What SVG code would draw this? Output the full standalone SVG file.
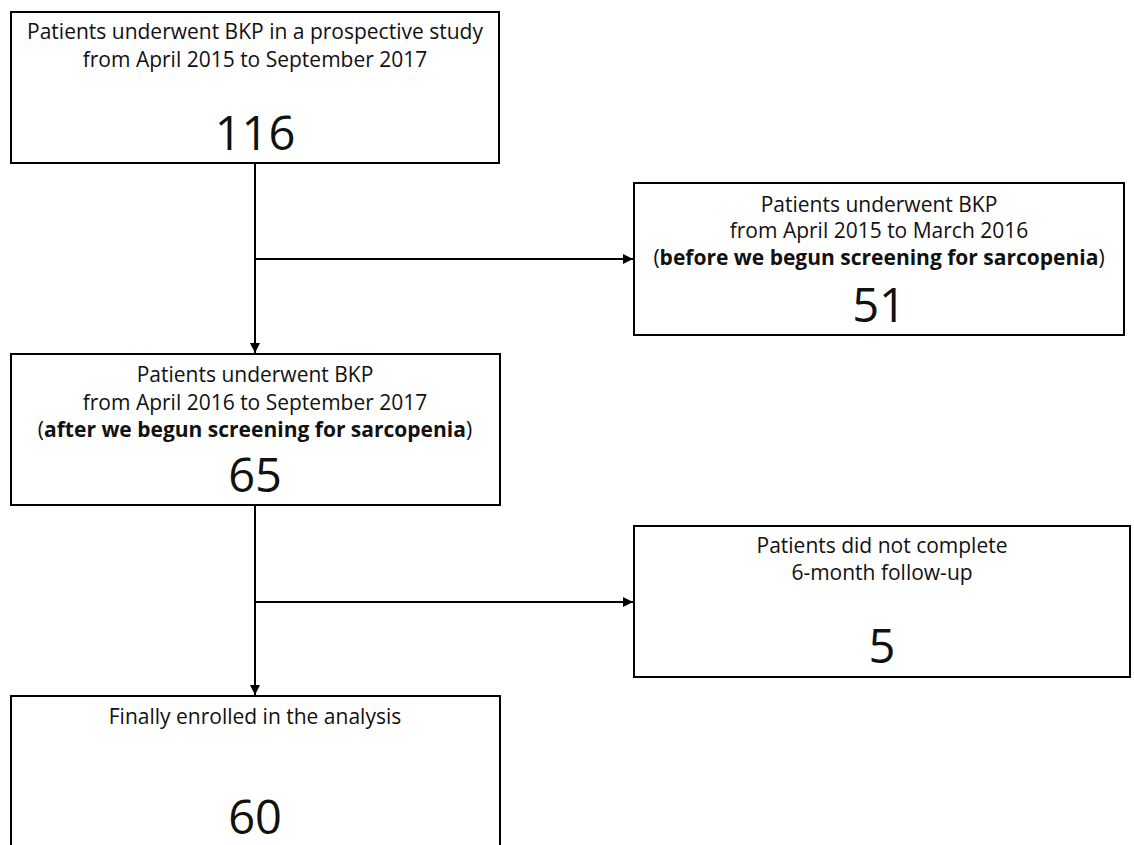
<svg xmlns="http://www.w3.org/2000/svg" width="1134" height="845" viewBox="0 0 1134 845">
<style>
.box{fill:#fff;stroke:#000;stroke-width:2}
.t{font-family:"Open Sans","Noto Sans","Liberation Sans",sans-serif;font-size:21px;fill:#111;text-anchor:middle}
.b{font-weight:bold}
.n{font-family:"Open Sans","Noto Sans","Liberation Sans",sans-serif;font-size:47px;fill:#111;text-anchor:middle}
.c{fill:none;stroke:#000;stroke-width:2}
</style>
<defs>
<marker id="ah" viewBox="0 0 10 10" refX="10" refY="5" markerWidth="5.5" markerHeight="5" markerUnits="strokeWidth" orient="auto">
<path d="M0,0 L10,5 L0,10 z" fill="#000"/>
</marker>
</defs>
<rect width="1134" height="845" fill="#fff"/>
<g id="connectors">
<line class="c" x1="255" y1="163" x2="255" y2="353" marker-end="url(#ah)"/>
<line class="c" x1="255" y1="259" x2="633" y2="259" marker-end="url(#ah)"/>
<line class="c" x1="255" y1="505" x2="255" y2="695" marker-end="url(#ah)"/>
<line class="c" x1="255" y1="602" x2="633" y2="602" marker-end="url(#ah)"/>
</g>
<g id="n1">
<rect class="box" x="11" y="12" width="488" height="151"/>
<text class="t" x="255" y="39">Patients underwent BKP in a prospective study</text>
<text class="t" x="255" y="67">from April 2015 to September 2017</text>
<text class="n" x="255" y="150">116</text>
</g>
<g id="n2">
<rect class="box" x="634" y="183" width="490" height="152"/>
<text class="t" x="879" y="212">Patients underwent BKP</text>
<text class="t" x="879" y="238">from April 2015 to March 2016</text>
<text class="t" x="879" y="265">(<tspan class="b">before we begun screening for sarcopenia</tspan>)</text>
<text class="n" x="879" y="322">51</text>
</g>
<g id="n3">
<rect class="box" x="11" y="354" width="489" height="151"/>
<text class="t" x="255" y="382">Patients underwent BKP</text>
<text class="t" x="255" y="410">from April 2016 to September 2017</text>
<text class="t" x="255" y="437">(<tspan class="b">after we begun screening for sarcopenia</tspan>)</text>
<text class="n" x="255" y="492">65</text>
</g>
<g id="n4">
<rect class="box" x="634" y="526" width="496" height="151"/>
<text class="t" x="882" y="553">Patients did not complete</text>
<text class="t" x="882" y="580">6-month follow-up</text>
<text class="n" x="882" y="663">5</text>
</g>
<g id="n5">
<rect class="box" x="11" y="696" width="489" height="160"/>
<text class="t" x="255" y="724">Finally enrolled in the analysis</text>
<text class="n" x="255" y="834">60</text>
</g>
</svg>
